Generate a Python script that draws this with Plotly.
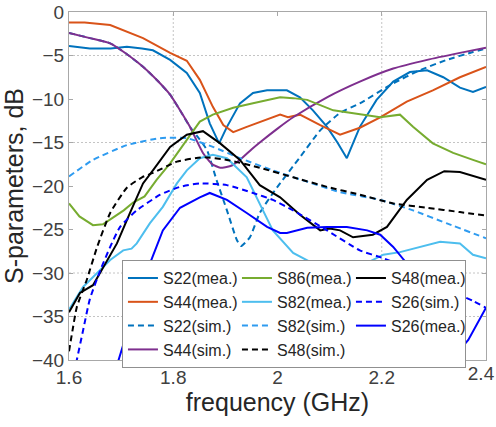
import plotly.graph_objects as go

# ---------------- data (frequency in GHz, S-parameters in dB) ----------------
S22_mea_f = [1.60, 1.64, 1.68, 1.711, 1.74, 1.761, 1.794, 1.826, 1.851, 1.870, 1.888, 1.903, 1.928, 1.953, 1.98,
             2.018, 2.043, 2.068, 2.095, 2.115, 2.133, 2.158, 2.19, 2.222, 2.254, 2.287, 2.318, 2.35, 2.375, 2.40]
S22_mea = [-3.9, -4.2, -4.2, -4.0, -4.2, -4.4, -5.5, -7.0, -9.3, -12.8, -15.1, -13.2, -10.5, -9.3, -9.0,
           -9.0, -9.8, -11.3, -13.2, -15.0, -16.8, -13.2, -10.1, -8.0, -6.9, -6.7, -7.5, -8.7, -9.2, -8.6]

S44_mea_f = [1.60, 1.63, 1.679, 1.742, 1.794, 1.826, 1.851, 1.876, 1.896, 1.915, 1.941, 1.98, 2.005, 2.02,
             2.043, 2.082, 2.12, 2.158, 2.197, 2.248, 2.298, 2.35, 2.40]
S44_mea = [-1.2, -1.2, -1.5, -3.0, -4.7, -5.6, -7.8, -10.9, -13.0, -13.8, -13.2, -12.4, -11.8, -12.1,
           -11.8, -13.0, -14.1, -13.3, -12.1, -10.3, -9.0, -7.5, -6.3]

S22_sim_f = [1.60, 1.64, 1.679, 1.71, 1.742, 1.77, 1.794, 1.813, 1.832, 1.850, 1.865, 1.883, 1.903, 1.922,
             1.930, 1.947, 1.966, 1.995, 2.043, 2.082, 2.12, 2.158, 2.222, 2.273, 2.325, 2.375, 2.40]
S22_sim = [-2.4, -3.0, -3.6, -4.8, -6.3, -7.9, -9.5, -11.3, -13.2, -14.6, -15.9, -19.3, -22.8, -26.2,
           -26.9, -25.9, -23.1, -20.5, -16.7, -13.6, -11.6, -10.5, -8.2, -6.7, -5.5, -4.6, -4.2]

S44_sim_f = [1.60, 1.64, 1.679, 1.71, 1.742, 1.77, 1.794, 1.813, 1.832, 1.857, 1.875, 1.89, 1.91, 1.928,
             1.95, 1.966, 2.0, 2.03, 2.095, 2.158, 2.222, 2.287, 2.35, 2.40]
S44_sim = [-2.4, -3.0, -3.6, -4.8, -6.3, -7.9, -9.5, -11.3, -13.2, -16.2, -17.5, -17.9, -17.7, -17.0,
           -15.8, -15.0, -13.4, -12.1, -9.8, -8.0, -6.5, -5.5, -4.7, -4.1]

S86_mea_f = [1.60, 1.62, 1.646, 1.665, 1.685, 1.705, 1.723, 1.745, 1.768, 1.794, 1.826, 1.851, 1.876, 1.915,
             1.953, 2.005, 2.03, 2.057, 2.107, 2.158, 2.197, 2.235, 2.26, 2.298, 2.337, 2.375, 2.40]
S86_mea = [-22.0, -23.5, -24.5, -24.4, -23.6, -22.8, -21.9, -21.2, -19.3, -17.4, -14.7, -12.6, -11.8, -11.0,
           -10.5, -9.8, -9.9, -10.1, -11.3, -11.8, -12.1, -11.8, -13.2, -15.1, -16.2, -17.0, -17.5]

S82_mea_f = [1.60, 1.627, 1.654, 1.679, 1.704, 1.72, 1.73, 1.755, 1.78, 1.807, 1.826, 1.851, 1.876, 1.903,
             1.941, 1.966, 1.991, 2.03, 2.068, 2.10, 2.13, 2.17, 2.203, 2.235, 2.273, 2.312, 2.35, 2.375, 2.40]
S82_mea = [-34.2, -31.6, -30.0, -28.5, -27.4, -27.2, -26.6, -24.3, -22.4, -19.7, -18.2, -16.8, -16.4, -16.8,
           -19.0, -22.0, -25.1, -27.7, -28.9, -30.2, -30.5, -28.9, -27.9, -27.6, -27.0, -26.4, -26.6, -27.9, -28.3]

S82_sim_f = [1.60, 1.646, 1.711, 1.775, 1.826, 1.876, 1.928, 1.991, 2.057, 2.12, 2.197, 2.26, 2.325, 2.40]
S82_sim = [-18.9, -17.0, -15.3, -14.5, -14.5, -15.5, -16.8, -18.2, -19.5, -20.7, -21.6, -22.8, -24.3, -26.0]

S48_sim_f = [1.60, 1.607, 1.615, 1.634, 1.654, 1.679, 1.711, 1.74, 1.761, 1.807, 1.857, 1.903, 1.966, 2.03,
             2.095, 2.158, 2.222, 2.287, 2.35, 2.40]
S48_sim = [-39.0, -36.5, -33.9, -30.8, -27.0, -23.1, -20.2, -19.0, -18.5, -17.2, -16.7, -17.0, -17.9, -19.0,
           -20.1, -21.0, -22.0, -22.5, -23.0, -23.4]

S48_mea_f = [1.60, 1.621, 1.646, 1.665, 1.692, 1.717, 1.742, 1.761, 1.794, 1.826, 1.857, 1.89, 1.928, 1.966,
             2.005, 2.043, 2.082, 2.10, 2.12, 2.145, 2.183, 2.21, 2.248, 2.287, 2.32, 2.35, 2.40]
S48_mea = [-34.5, -32.3, -31.4, -29.4, -26.6, -23.1, -19.7, -18.2, -15.5, -14.1, -13.7, -15.1, -17.0, -19.9,
           -21.3, -23.3, -25.1, -24.9, -25.1, -25.9, -25.6, -24.7, -21.6, -19.3, -18.3, -18.4, -19.3]

S26_sim_f = [1.61, 1.615, 1.627, 1.64, 1.66, 1.679, 1.698, 1.73, 1.775, 1.813, 1.851, 1.903, 1.953, 1.991,
             2.03, 2.095, 2.158, 2.203, 2.235, 2.30, 2.375, 2.40]
S26_sim = [-41.5, -40.0, -36.6, -33.0, -29.7, -27.0, -24.7, -22.8, -21.0, -20.1, -19.7, -19.9, -20.8, -21.6,
           -22.8, -25.1, -27.4, -28.3, -29.1, -31.3, -33.2, -34.0]

S26_mea_f = [1.69, 1.711, 1.73, 1.755, 1.78, 1.813, 1.851, 1.87, 1.903, 1.941, 1.98, 2.005, 2.018, 2.057,
             2.095, 2.133, 2.172, 2.197, 2.222, 2.248, 2.30, 2.34, 2.366, 2.40]
S26_mea = [-41.0, -36.9, -32.8, -28.9, -25.1, -22.5, -21.3, -20.8, -21.6, -23.1, -24.7, -25.4, -25.4, -24.8,
           -24.7, -24.7, -25.1, -25.6, -27.0, -28.9, -35.0, -39.5, -37.7, -34.0]

X_TICKS = [1.6, 1.8, 2.0, 2.2]
X_TICK_TEXT = ["1.6", "1.8", "2", "2.2"]
X_END_TICK = [2.4]
X_END_TICK_TEXT = ["2.4"]
Y_TICKS = [0, -5, -10, -15, -20, -25, -30, -35, -40]
GRID_X = [1.8, 2.2]
GRID_Y = [-5, -15, -30, -35]

# (name, x, y, color, dash, legend rank, simulated?) in drawing order
series = [
    ("S22(mea.)", S22_mea_f, S22_mea, "#0072BD", "solid", 1, False),
    ("S44(mea.)", S44_mea_f, S44_mea, "#D95319", "solid", 4, False),
    ("S22(sim.)", S22_sim_f, S22_sim, "#0072BD", "6px,4px", 7, True),
    ("S44(sim.)", S44_sim_f, S44_sim, "#7E2F8E", "solid", 10, True),
    ("S86(mea.)", S86_mea_f, S86_mea, "#77AC30", "solid", 2, False),
    ("S82(mea.)", S82_mea_f, S82_mea, "#4DBEEE", "solid", 5, False),
    ("S82(sim.)", S82_sim_f, S82_sim, "#2E9BF0", "6px,4px", 8, True),
    ("S48(sim.)", S48_sim_f, S48_sim, "#000000", "6px,4px", 11, True),
    ("S48(mea.)", S48_mea_f, S48_mea, "#000000", "solid", 3, False),
    ("S26(sim.)", S26_sim_f, S26_sim, "#0000FF", "6px,4px", 6, True),
    ("S26(mea.)", S26_mea_f, S26_mea, "#0000FF", "solid", 9, False),
]

fig = go.Figure()
for name, xs, ys, col, dash, rank, sim in series:
    line = dict(color=col, width=2, dash=dash)
    if sim:
        line.update(shape="spline", smoothing=0.5)
    fig.add_trace(go.Scatter(x=xs, y=ys, mode="lines", name=name, legendrank=rank, line=line))

# empty trace that only carries the secondary x axis used for the last tick label
fig.add_trace(go.Scatter(x=[], y=[], xaxis="x2", yaxis="y", showlegend=False, hoverinfo="skip"))

grid_style = dict(color="#c4c4c4", width=1, dash="2px,2px")
for gx in GRID_X:
    fig.add_shape(type="line", xref="x", yref="paper", x0=gx, x1=gx, y0=0, y1=1,
                  line=grid_style, layer="below")
for gy in GRID_Y:
    fig.add_shape(type="line", xref="paper", yref="y", x0=0, x1=1, y0=gy, y1=gy,
                  line=grid_style, layer="below")

FONT = "Liberation Sans, Arial, sans-serif"
TICKFONT = dict(family=FONT, size=19, color="#404040")
axis_common = dict(showline=True, linecolor="#a8a8a8", linewidth=1, mirror="ticks",
                   ticks="inside", ticklen=4, tickcolor="#a8a8a8", showgrid=False, zeroline=False,
                   tickfont=TICKFONT)

fig.update_layout(
    width=496, height=427,
    margin=dict(l=69, r=10, t=12, b=67, autoexpand=False),
    paper_bgcolor="white", plot_bgcolor="white",
    font=dict(family=FONT, color="#262626"),
    xaxis=dict(range=[1.6, 2.4], tickvals=X_TICKS, ticktext=X_TICK_TEXT,
               title=dict(text="frequency (GHz)", font=dict(size=25, color="#262626"), standoff=6),
               automargin=False, **axis_common),
    xaxis2=dict(range=[1.6, 2.4], overlaying="x", anchor="y", side="bottom", matches="x",
                tickvals=X_END_TICK, ticktext=X_END_TICK_TEXT, ticks="inside", ticklen=4,
                tickcolor="#a8a8a8", showline=False, showgrid=False, zeroline=False,
                ticklabelshift=-5, ticklabeloverflow="allow", tickfont=TICKFONT, automargin=False),
    yaxis=dict(range=[-40, 0], tickvals=Y_TICKS,
               title=dict(text="S-parameters, dB", font=dict(size=25, color="#262626"), standoff=4),
               automargin=False, **axis_common),
    legend=dict(orientation="h", x=0.127, y=0.287, xanchor="left", yanchor="top",
                bgcolor="white", bordercolor="#909090", borderwidth=1,
                font=dict(family=FONT, size=16, color="#262626"),
                entrywidth=69, entrywidthmode="pixels", itemwidth=30,
                tracegroupgap=0),
    showlegend=True,
)

fig.write_html("out.html")
